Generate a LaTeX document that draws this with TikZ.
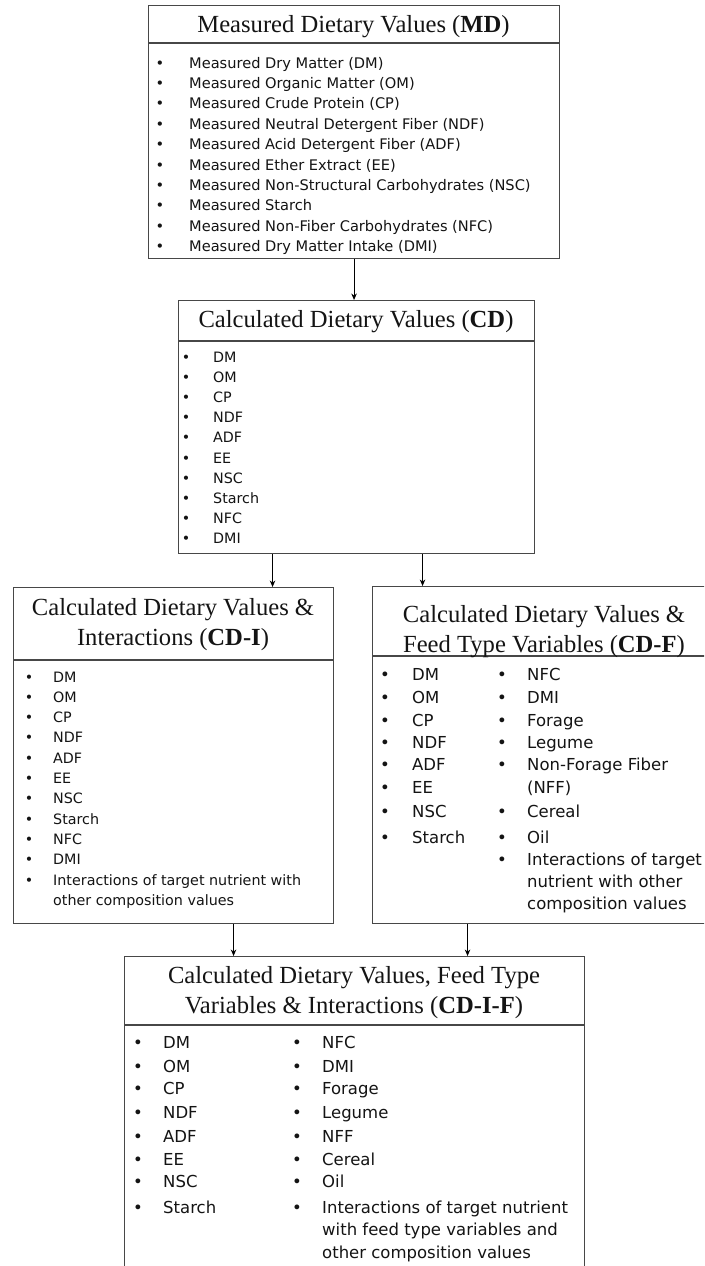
\documentclass[tikz,border=0pt]{standalone}
\usepackage{fontspec}
\setmainfont{Liberation Serif}
\newfontfamily\bodyf{DejaVu Sans}
\usetikzlibrary{arrows.meta}
\begin{document}
\begin{tikzpicture}[x=1pt,y=-1pt,
  box/.style={draw=black!72, line width=1.1pt, inner sep=0pt, anchor=north west},
  divl/.style={draw=black!72, line width=1.1pt},
  ttl/.style={font=\fontsize{24.6}{28}\selectfont, anchor=base, inner sep=0pt, text=black!92},
  itm/.style={anchor=base west, inner sep=0pt, text=black!92},
  bul/.style={anchor=base, inner sep=0pt, text=black!92},
  mdfont/.style={font=\bodyf\fontsize{14.6}{17}\selectfont},
  small/.style={font=\bodyf\fontsize{14.3}{17}\selectfont},
  large/.style={font=\bodyf\fontsize{16.5}{20}\selectfont},
  arr/.style={-{Stealth[length=6.5pt,width=5.5pt]}, line width=0.9pt, black},
]
\clip (0,0) rectangle (704,1266);
\fill[white] (0,0) rectangle (704,1266);

% boxes
\node[box, minimum width=411pt, minimum height=253pt] (md) at (148,5) {};
\node[box, minimum width=356pt, minimum height=253pt] (cd) at (178,300) {};
\node[box, minimum width=320pt, minimum height=336pt] (cdi) at (13,587) {};
\node[box, minimum width=344pt, minimum height=337pt] (cdf) at (372,586) {};
\node[box, minimum width=460pt, minimum height=330pt] (cdif) at (124,956) {};

% header dividers
\draw[divl] ([yshift=-38pt]md.north west) -- ([yshift=-38pt]md.north east);
\draw[divl] ([yshift=-41pt]cd.north west) -- ([yshift=-41pt]cd.north east);
\draw[divl] ([yshift=-73pt]cdi.north west) -- ([yshift=-73pt]cdi.north east);
\draw[divl] ([yshift=-70pt]cdf.north west) -- ([yshift=-70pt]cdf.north east);
\draw[divl] ([yshift=-69pt]cdif.north west) -- ([yshift=-69pt]cdif.north east);

% titles
\node[ttl] (mdtitle) at (353.5,32) {Measured Dietary Values (\textbf{MD})};
\node[ttl] (cdtitle) at (356,327) {Calculated Dietary Values (\textbf{CD})};
\node[ttl] (cdititleA) at (173,615) {Calculated Dietary Values \&};
\node[ttl] (cdititleB) at (173,645) {Interactions (\textbf{CD-I})};
\node[ttl] (cdftitleA) at (544,622) {Calculated Dietary Values \&};
\node[ttl] (cdftitleB) at (544,652) {Feed Type Variables (\textbf{CD-F})};
\node[ttl] (cdiftitleA) at (354,983) {Calculated Dietary Values, Feed Type};
\node[ttl] (cdiftitleB) at (354,1013) {Variables \& Interactions (\textbf{CD-I-F})};

% MD list
\foreach \t [count=\i from 0] in {Measured Dry Matter (DM), Measured Organic Matter (OM), Measured Crude Protein (CP), Measured Neutral Detergent Fiber (NDF), Measured Acid Detergent Fiber (ADF), Measured Ether Extract (EE), Measured Non-Structural Carbohydrates (NSC), Measured Starch, Measured Non-Fiber Carbohydrates (NFC), Measured Dry Matter Intake (DMI)} {
  \node[bul, mdfont] (mdb\i) at (160, 68+20.4*\i) {\textbullet};
  \node[itm, mdfont] (mdt\i) at (189, 68+20.4*\i) {\t};
}

% CD list
\foreach \t [count=\i from 0] in {DM, OM, CP, NDF, ADF, EE, NSC, Starch, NFC, DMI} {
  \node[bul, small] (cdb\i) at (186, 362+20.2*\i) {\textbullet};
  \node[itm, small] (cdt\i) at (213, 362+20.2*\i) {\t};
}

% CD-I list
\foreach \t [count=\i from 0] in {DM, OM, CP, NDF, ADF, EE, NSC, Starch, NFC, DMI, Interactions of target nutrient with} {
  \node[bul, small] (cdib\i) at (29, 682+20.3*\i) {\textbullet};
  \node[itm, small] (cdit\i) at (53, 682+20.3*\i) {\t};
}
\node[itm, small] (cdit11) at (53, 905) {other composition values};

% CD-F list
\foreach \t/\y [count=\i] in {DM/680, OM/703, CP/726, NDF/748, ADF/770, EE/793, NSC/817, Starch/843} {
  \node[bul, large] (cdfb\i) at (385, \y) {\textbullet};
  \node[itm, large] (cdft\i) at (412, \y) {\t};
}
\foreach \t/\y [count=\i] in {NFC/680, DMI/703, Forage/726, Legume/748, Non-Forage Fiber/770, Cereal/817, Oil/843, Interactions of target/865} {
  \node[bul, large] (cdfbb\i) at (502, \y) {\textbullet};
  \node[itm, large] (cdftt\i) at (527, \y) {\t};
}
\node[itm, large] (cdfx1) at (527, 793) {(NFF)};
\node[itm, large] (cdfx2) at (527, 887) {nutrient with other};
\node[itm, large] (cdfx3) at (527, 909) {composition values};

% CD-I-F list
\foreach \t/\y [count=\i] in {DM/1048, OM/1072, CP/1094, NDF/1118, ADF/1142, EE/1165, NSC/1187, Starch/1213} {
  \node[bul, large] (cdifb\i) at (138, \y) {\textbullet};
  \node[itm, large] (cdift\i) at (163, \y) {\t};
}
\foreach \t/\y [count=\i] in {NFC/1048, DMI/1072, Forage/1094, Legume/1118, NFF/1142, Cereal/1165, Oil/1187, Interactions of target nutrient/1213} {
  \node[bul, large] (cdifbb\i) at (297, \y) {\textbullet};
  \node[itm, large] (cdiftt\i) at (322, \y) {\t};
}
\node[itm, large] (cdifx1) at (322, 1235) {with feed type variables and};
\node[itm, large] (cdifx2) at (322, 1258) {other composition values};

% connectors
\coordinate (a1) at ([xshift=-84pt]cd.south);
\coordinate (a2) at ([xshift=66pt]cd.south);
\coordinate (a3) at ([xshift=60pt]cdi.south);
\coordinate (a4) at ([xshift=-77pt]cdf.south);
\draw[arr] (md.south) -- (md.south |- cd.north);
\draw[arr] (a1) -- (a1 |- cdi.north);
\draw[arr] (a2) -- (a2 |- cdf.north);
\draw[arr] (a3) -- (a3 |- cdif.north);
\draw[arr] (a4) -- (a4 |- cdif.north);
\end{tikzpicture}
\end{document}
